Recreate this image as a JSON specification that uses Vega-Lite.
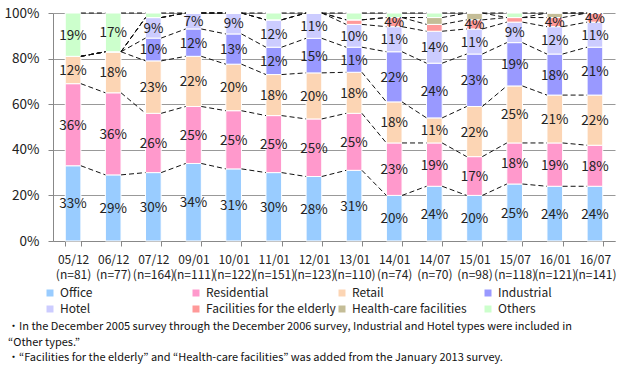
{
  "$schema": "https://vega.github.io/schema/vega-lite/v6.json",
  "width": 562,
  "height": 228,
  "autosize": {"type": "none"},
  "padding": {"left": 53, "top": 13, "right": 8, "bottom": 126},
  "background": "white",
  "config": {
    "font": "Noto Sans CJK JP",
    "view": {"stroke": null},
    "axis": {"labelFont": "Noto Sans CJK JP", "labelColor": "#222", "titleFont": "Noto Sans CJK JP"},
    "legend": {"labelFont": "Noto Sans CJK JP"},
    "title": {"font": "Noto Sans CJK JP"}
  },
  "title": {
    "text": [
      "・In the December 2005 survey through the December 2006 survey, Industrial and Hotel types were included in",
      "\u3000“Other types.”",
      "・“Facilities for the elderly” and “Health-care facilities” was added from the January 2013 survey."
    ],
    "orient": "bottom",
    "anchor": "start",
    "frame": "group",
    "dx": -45,
    "offset": 6,
    "fontSize": 11,
    "fontWeight": "normal",
    "color": "#111",
    "lineHeight": 15.5
  },
  "datasets": {
    "surveys": [
      {"survey": "05/12|(n=81)", "Office": 33, "Residential": 36, "Retail": 12, "Industrial": 0, "Hotel": 0, "Facilities for the elderly": 0, "Health-care facilities": 0, "Others": 19},
      {"survey": "06/12|(n=77)", "Office": 29, "Residential": 36, "Retail": 18, "Industrial": 0, "Hotel": 0, "Facilities for the elderly": 0, "Health-care facilities": 0, "Others": 17},
      {"survey": "07/12|(n=164)", "Office": 30, "Residential": 26, "Retail": 23, "Industrial": 10, "Hotel": 9, "Facilities for the elderly": 0, "Health-care facilities": 0, "Others": 2},
      {"survey": "09/01|(n=111)", "Office": 34, "Residential": 25, "Retail": 22, "Industrial": 12, "Hotel": 7, "Facilities for the elderly": 0, "Health-care facilities": 0, "Others": 0},
      {"survey": "10/01|(n=122)", "Office": 31, "Residential": 25, "Retail": 20, "Industrial": 13, "Hotel": 9, "Facilities for the elderly": 0, "Health-care facilities": 0, "Others": 0},
      {"survey": "11/01|(n=151)", "Office": 30, "Residential": 25, "Retail": 18, "Industrial": 12, "Hotel": 12, "Facilities for the elderly": 0, "Health-care facilities": 0, "Others": 3},
      {"survey": "12/01|(n=123)", "Office": 28, "Residential": 25, "Retail": 20, "Industrial": 15, "Hotel": 11, "Facilities for the elderly": 0, "Health-care facilities": 0, "Others": 0},
      {"survey": "13/01|(n=110)", "Office": 31, "Residential": 25, "Retail": 18, "Industrial": 11, "Hotel": 10, "Facilities for the elderly": 2, "Health-care facilities": 0, "Others": 3},
      {"survey": "14/01|(n=74)", "Office": 20, "Residential": 23, "Retail": 18, "Industrial": 22, "Hotel": 11, "Facilities for the elderly": 4, "Health-care facilities": 0, "Others": 2},
      {"survey": "14/07|(n=70)", "Office": 24, "Residential": 19, "Retail": 11, "Industrial": 24, "Hotel": 14, "Facilities for the elderly": 3, "Health-care facilities": 3, "Others": 2},
      {"survey": "15/01|(n=98)", "Office": 20, "Residential": 17, "Retail": 22, "Industrial": 23, "Hotel": 11, "Facilities for the elderly": 4, "Health-care facilities": 3, "Others": 0},
      {"survey": "15/07|(n=118)", "Office": 25, "Residential": 18, "Retail": 25, "Industrial": 19, "Hotel": 9, "Facilities for the elderly": 2, "Health-care facilities": 0, "Others": 2},
      {"survey": "16/01|(n=121)", "Office": 24, "Residential": 19, "Retail": 21, "Industrial": 18, "Hotel": 12, "Facilities for the elderly": 4, "Health-care facilities": 2, "Others": 0},
      {"survey": "16/07|(n=141)", "Office": 24, "Residential": 18, "Retail": 22, "Industrial": 21, "Hotel": 11, "Facilities for the elderly": 4, "Health-care facilities": 0, "Others": 0}
    ],
    "types": [
      {"type": "Office", "k": 1},
      {"type": "Residential", "k": 2},
      {"type": "Retail", "k": 3},
      {"type": "Industrial", "k": 4},
      {"type": "Hotel", "k": 5},
      {"type": "Facilities for the elderly", "k": 6},
      {"type": "Health-care facilities", "k": 7},
      {"type": "Others", "k": 8}
    ]
  },
  "data": {"name": "surveys"},
  "transform": [
    {"fold": ["Office", "Residential", "Retail", "Industrial", "Hotel", "Facilities for the elderly", "Health-care facilities", "Others"], "as": ["type", "value"]},
    {"lookup": "type", "from": {"data": {"name": "types"}, "key": "type", "fields": ["k"]}},
    {"stack": "value", "groupby": ["survey"], "sort": [{"field": "k", "order": "ascending"}], "offset": "normalize", "as": ["y0", "y1"]}
  ],
  "encoding": {
    "x": {
      "field": "survey",
      "type": "nominal",
      "sort": null,
      "scale": {"paddingInner": 0.61, "paddingOuter": 0.305},
      "axis": {
        "title": null,
        "labelAngle": 0,
        "labelExpr": "split(datum.label, '|')",
        "labelFontSize": 12,
        "labelLineHeight": 15.5,
        "labelPadding": 8,
        "labelBaseline": "top",
        "ticks": true,
        "tickBand": "extent",
        "tickSize": 5,
        "tickColor": "#888",
        "domainColor": "#888",
        "labelColor": "#222"
      }
    }
  },
  "layer": [
    {
      "mark": {"type": "bar", "stroke": "white", "strokeWidth": 1},
      "encoding": {
        "y": {
          "field": "y0",
          "type": "quantitative",
          "scale": {"domain": [0, 1], "nice": false},
          "axis": {
            "title": null,
            "format": ".0%",
            "values": [0, 0.1, 0.2, 0.3, 0.4, 0.5, 0.6, 0.7, 0.8, 0.9, 1],
            "labelOverlap": false,
            "labelFontSize": 13.5,
            "labelPadding": 9,
            "tickSize": 5,
            "tickColor": "#888",
            "domainColor": "#888",
            "gridColor": "#999",
            "gridWidth": 1,
            "labelColor": "#222"
          }
        },
        "y2": {"field": "y1"},
        "color": {
          "field": "type",
          "type": "nominal",
          "scale": {
            "domain": ["Office", "Hotel", "Residential", "Facilities for the elderly", "Retail", "Health-care facilities", "Industrial", "Others"],
            "range": ["#99CCFF", "#CCCCFF", "#FF99CC", "#FF9999", "#FCD5B4", "#C4BD97", "#9999FF", "#CCFFCC"]
          },
          "legend": {
            "title": null,
            "orient": "none",
            "legendX": -9,
            "legendY": 274,
            "columns": 4,
            "gridAlign": "all",
            "columnPadding": 0,
            "rowPadding": 4,
            "symbolType": "square",
            "symbolSize": 49,
            "symbolStrokeWidth": 0,
            "labelFontSize": 12,
            "labelColor": "#222",
            "labelOffset": 4,
            "labelLimit": 200,
            "padding": 0
          }
        }
      }
    },
    {
      "transform": [
        {"window": [{"op": "lead", "field": "y1", "as": "ny1"}, {"op": "lead", "field": "survey", "as": "nsurvey"}], "groupby": ["type"], "sort": [{"field": "survey", "order": "ascending"}]},
        {"filter": "datum.nsurvey != null"}
      ],
      "mark": {"type": "rule", "color": "#111", "strokeWidth": 1, "strokeDash": [5, 3]},
      "encoding": {
        "x": {"field": "survey", "type": "nominal", "sort": null, "bandPosition": 1},
        "x2": {"field": "nsurvey", "bandPosition": 0},
        "y": {"field": "y1", "type": "quantitative"},
        "y2": {"field": "ny1"}
      }
    },
    {
      "transform": [
        {"filter": "datum.value >= 4"},
        {"calculate": "(datum.y0 + datum.y1) / 2", "as": "ymid"},
        {"calculate": "datum.value + '%'", "as": "lbl"}
      ],
      "mark": {"type": "text", "fontSize": 13.5, "color": "#222", "baseline": "middle", "dy": 1},
      "encoding": {
        "y": {"field": "ymid", "type": "quantitative"},
        "text": {"field": "lbl"}
      }
    }
  ]
}
